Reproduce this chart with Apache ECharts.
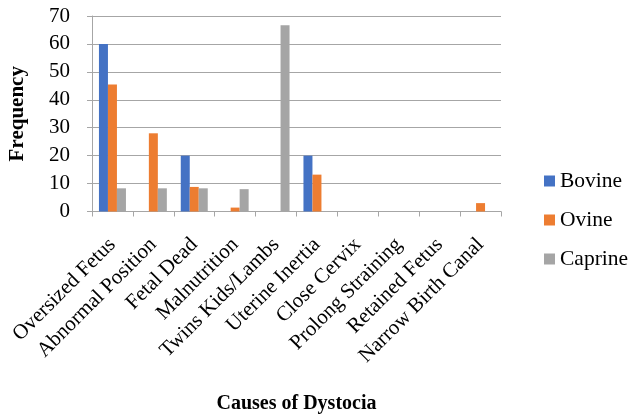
<!DOCTYPE html>
<html>
<head>
<meta charset="utf-8">
<script src="https://cdn.jsdelivr.net/npm/echarts@6/dist/echarts.min.js"></script>
<style>
html,body{margin:0;padding:0;background:#fff;}
#chart{width:628px;height:417px;}
</style>
</head>
<body>
<div id="chart"></div>
<script>
var categories = ["Oversized Fetus", "Abnormal Position", "Fetal Dead", "Malnutrition", "Twins Kids/Lambs", "Uterine Inertia", "Close Cervix", "Prolong Straining", "Retained Fetus", "Narrow Birth Canal"];
var bovine = [60, 0, 20, 0, 0, 20, 0, 0, 0, 0];
var ovine = [45.5, 28, 8.8, 1.4, 0, 13.2, 0, 0, 0, 3];
var caprine = [8.3, 8.3, 8.3, 8, 66.7, 0, 0, 0, 0, 0];
var seriesNames = ["Bovine", "Ovine", "Caprine"];
var colors = ["#4472C4", "#ED7D31", "#A5A5A5"];

var font = "'Liberation Serif', 'Times New Roman', serif";
var chart = echarts.init(document.getElementById('chart'), null, {renderer: 'canvas'});
var values = [bovine, ovine, caprine];
var option = {
  animation: false,
  backgroundColor: '#fff',
  textStyle: {fontFamily: font, color: '#000'},
  grid: {left: 92, right: 127, top: 16, bottom: 205.5, containLabel: false, outerBoundsMode: 'none'},
  legend: {
    orient: 'vertical',
    left: 544,
    top: 170,
    padding: 0,
    itemWidth: 11,
    itemHeight: 11,
    itemGap: 17,
    icon: 'rect',
    data: seriesNames,
    textStyle: {fontFamily: font, fontSize: 21.5, color: '#000', lineHeight: 22}
  },
  xAxis: {
    type: 'category',
    data: categories,
    name: 'Causes of Dystocia',
    nameLocation: 'middle',
    nameGap: 182,
    nameTextStyle: {fontFamily: font, fontSize: 20, fontWeight: 'bold', color: '#000'},
    axisLine: {show: true, lineStyle: {color: '#a6a6a6', width: 1}},
    axisTick: {show: true, length: 5, lineStyle: {color: '#a6a6a6'}},
    axisLabel: {rotate: 45, interval: 0, margin: 30, fontFamily: font, fontSize: 21, color: '#000'}
  },
  yAxis: {
    type: 'value',
    min: 0,
    max: 70,
    interval: 10,
    name: 'Frequency',
    nameLocation: 'middle',
    nameGap: 64,
    nameRotate: 90,
    nameTextStyle: {fontFamily: font, fontSize: 21, fontWeight: 'bold', color: '#000'},
    axisLine: {show: true, lineStyle: {color: '#a6a6a6', width: 1}},
    axisTick: {show: true, length: 5, lineStyle: {color: '#a6a6a6'}},
    axisLabel: {margin: 22, fontFamily: font, fontSize: 21, color: '#000'},
    splitLine: {show: true, lineStyle: {color: '#a6a6a6', width: 1}}
  },
  series: seriesNames.map(function (n, i) {
    return {
      name: n,
      type: 'bar',
      data: values[i],
      barGap: '0%',
      barCategoryGap: '34%',
      itemStyle: {color: colors[i]}
    };
  })
};
chart.setOption(option);
</script>
</body>
</html>
